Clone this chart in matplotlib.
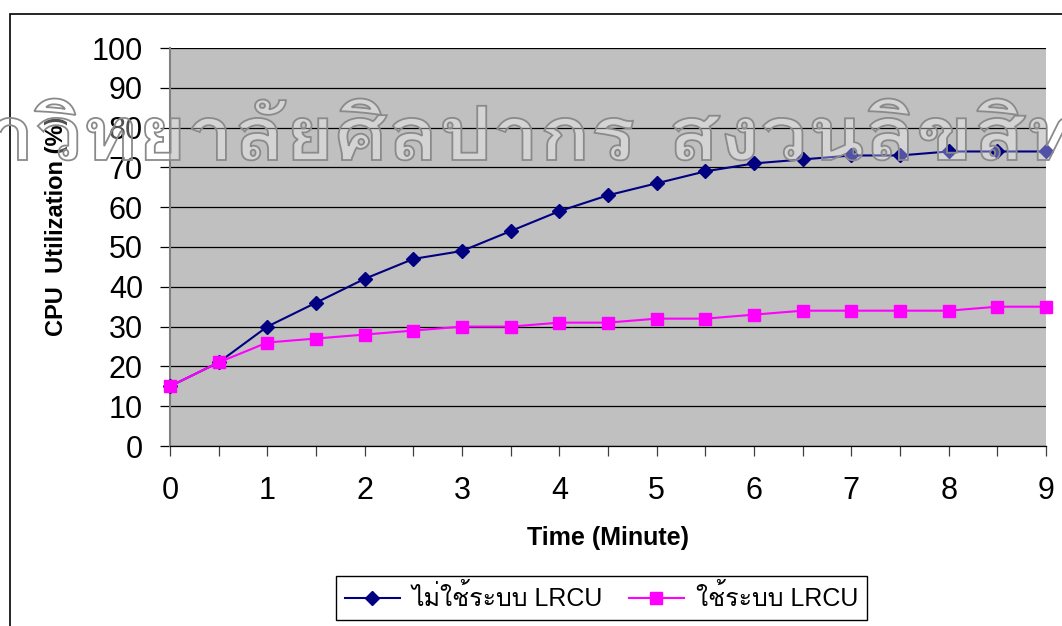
import matplotlib
matplotlib.use("Agg")
import matplotlib.pyplot as plt
from matplotlib import font_manager
from matplotlib.font_manager import FontProperties
from matplotlib.ft2font import FT2Font
from matplotlib.patches import Rectangle, PathPatch
from matplotlib.textpath import TextPath
from matplotlib.transforms import Affine2D, IdentityTransform

minutes = [0, 0.5, 1, 1.5, 2, 2.5, 3, 3.5, 4, 4.5, 5, 5.5, 6, 6.5, 7, 7.5, 8, 8.5, 9]
without_lrcu = [15, 21, 30, 36, 42, 47, 49, 54, 59, 63, 66, 69, 71, 72, 73, 73, 74, 74, 74]
with_lrcu = [15, 21, 26, 27, 28, 29, 30, 30, 31, 31, 32, 32, 33, 34, 34, 34, 34, 35, 35]

series_names = ["ไม่ใช้ระบบ LRCU", "ใช้ระบบ LRCU"]
x_label = "Time (Minute)"
y_label = "CPU  Utilization (%)"
watermark_left = "มหาวิทยาลัยศิลปากร"
watermark_right = "สงวนลิขสิทธิ์"


def find_thai_font():
    # pick the first installed family that actually has Thai glyphs
    for entry in font_manager.fontManager.ttflist:
        try:
            if 0x0E44 in FT2Font(entry.fname).get_charmap():
                return entry.name
        except Exception:
            continue
    return "DejaVu Sans"


thai_font = find_thai_font()
latin_font = "Liberation Sans"
plt.rcParams["font.family"] = [latin_font, thai_font, "DejaVu Sans"]

W, H = 1062, 626
fig = plt.figure(figsize=(W / 100, H / 100), dpi=100)
ax = fig.add_axes([170 / W, 1 - 446 / H, 876 / W, 398 / H])
ax.set_facecolor("#c0c0c0")

ax.plot(minutes, without_lrcu, color="#000080", lw=1.5, marker="D", ms=7.5,
        label=series_names[0], clip_on=False, zorder=3)
ax.plot(minutes, with_lrcu, color="#ff00ff", lw=1.5, marker="s", ms=8.5,
        label=series_names[1], clip_on=False, zorder=3)

ax.set_xlim(0, 9)
ax.set_ylim(0, 100)
ax.set_xticks(range(0, 10))
ax.set_xticks([i + 0.5 for i in range(9)], minor=True)
ax.set_yticks(range(0, 101, 10))
ax.yaxis.grid(True, color="black", lw=0.9)
ax.set_axisbelow(True)

ax.tick_params(axis="y", length=7.5, width=0.9, color="black", pad=12, labelsize=22)
ax.tick_params(axis="x", which="both", length=7.5, width=0.9, color="#404040", pad=14, labelsize=22)

for side in ["top", "right"]:
    ax.spines[side].set_visible(False)
ax.spines["left"].set_color("#808080")
ax.spines["left"].set_linewidth(1.5)
ax.spines["bottom"].set_color("black")
ax.spines["bottom"].set_linewidth(0.9)

ax.set_xlabel(x_label, fontsize=18, fontweight="bold")
ax.set_ylabel(y_label, fontsize=17, fontweight="bold")
ax.xaxis.set_label_coords(0.5, -0.2)
ax.yaxis.set_label_coords(-0.117, 0.553)

leg = fig.legend(loc="center", bbox_to_anchor=(601.5 / W, 1 - 598 / H),
                 ncol=2, prop=FontProperties(family=[latin_font, thai_font], size=18),
                 fancybox=False, edgecolor="black", framealpha=1, handlelength=2.2,
                 columnspacing=1.0, handletextpad=0.5, borderpad=0.35)
leg.get_frame().set_linewidth(1.0)

# outer chart border, running off the right and bottom edges
fig.patches.append(Rectangle((10 / W, -0.1), 2, 1 - 14 / H + 0.1, transform=fig.transFigure,
                             fill=False, edgecolor="black", lw=1.2))


# outlined watermark, drawn in pixels and stretched a little sideways
def add_watermark(text, x_px, baseline_px, align):
    path = TextPath((0, 0), text, size=75,
                    prop=FontProperties(family=thai_font, weight="bold"))
    ext = path.get_extents()
    sx = 1.12
    x0 = x_px - sx * ext.x1 if align == "right" else x_px - sx * ext.x0
    tr = Affine2D().scale(sx, 1).translate(x0, H - baseline_px)
    fig.patches.append(PathPatch(tr.transform_path(path), transform=IdentityTransform(),
                                 facecolor=(1, 1, 1, 0.32), edgecolor="#8a8a8a",
                                 lw=1.3, zorder=10))


add_watermark(watermark_left, 633, 160, "right")
add_watermark(watermark_right, 673, 160, "left")

fig.savefig("out.png", dpi=100)
